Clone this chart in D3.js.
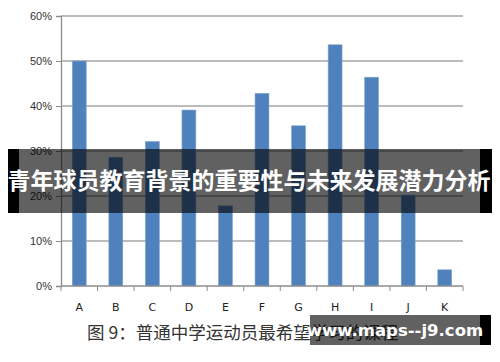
<!DOCTYPE html>
<html>
<head>
<meta charset="utf-8">
<script src="https://d3js.org/d3.v7.min.js"></script>
<style>
body { margin:0; background:#fff; }
svg { display:block; font-family:"DejaVu Sans", Verdana, sans-serif; }
</style>
</head>
<body>
<svg width="500" height="362"></svg>
<script>
var categories = ["A","B","C","D","E","F","G","H","I","J","K"];
var values = [50.0, 28.6, 32.1, 39.1, 17.8, 42.8, 35.6, 53.6, 46.4, 20.2, 3.6];
var yTicks = [0, 10, 20, 30, 40, 50, 60];
var title = "青年球员教育背景的重要性与未来发展潜力分析";
var caption = "图 9：普通中学运动员最希望学习的课程";
var watermark = "www.maps--j9.com";

var svg = d3.select("svg");
var x = d3.scaleBand().domain(categories).range([61, 463]).paddingInner(0.62).paddingOuter(0.31);
var y = d3.scaleLinear().domain([0, 60]).range([286, 16]);

// gridlines
svg.append("g").selectAll("line").data(yTicks.filter(function(d){ return d > 0; })).enter().append("line")
    .attr("x1", 61).attr("x2", 463)
    .attr("y1", function(d){ return y(d); }).attr("y2", function(d){ return y(d); })
    .attr("stroke", "#a6a6a6").attr("stroke-width", 1.3);

// y axis
var yaxis = d3.axisLeft(y).tickValues(yTicks).tickFormat(function(d){ return d + "%"; }).tickSize(5).tickPadding(4);
var gy = svg.append("g").attr("transform", "translate(61,0)").call(yaxis);
gy.select(".domain").attr("stroke", "#8c8c8c").attr("stroke-width", 1.3);
gy.selectAll(".tick line").attr("stroke", "#8c8c8c");
gy.selectAll("text").attr("fill", "#333").style("font-size", "11px");

// bars
svg.append("g").selectAll("rect").data(values).enter().append("rect")
    .attr("x", function(d, i){ return x(categories[i]); })
    .attr("width", x.bandwidth())
    .attr("y", function(d){ return y(d); })
    .attr("height", function(d){ return y(0) - y(d); })
    .attr("fill", "#4f81bd")
    .attr("stroke", "#7fa3d0").attr("stroke-width", 0.6);

// x axis
var xedge = d3.scaleLinear().domain([0, categories.length]).range([61, 463]);
svg.append("line").attr("x1", 61).attr("x2", 463).attr("y1", y(0)).attr("y2", y(0))
    .attr("stroke", "#8c8c8c").attr("stroke-width", 1.3);
svg.append("g").selectAll("line").data(d3.range(categories.length + 1)).enter().append("line")
    .attr("x1", function(d){ return xedge(d); }).attr("x2", function(d){ return xedge(d); })
    .attr("y1", y(0)).attr("y2", y(0) + 5)
    .attr("stroke", "#8c8c8c");
svg.append("g").selectAll("text").data(categories).enter().append("text")
    .attr("x", function(d){ return x(d) + x.bandwidth() / 2; })
    .attr("y", 311)
    .attr("text-anchor", "middle")
    .attr("fill", "#222")
    .style("font-size", "11px")
    .text(function(d){ return d; });

// caption
svg.append("text").attr("x", 87).attr("y", 339)
    .attr("fill", "#333")
    .style("font-family", "'Noto Sans CJK SC', sans-serif")
    .style("font-size", "17.5px")
    .text(caption);

// title banner
svg.append("rect").attr("x", 8).attr("y", 149).attr("width", 11).attr("height", 64).attr("fill", "#000");
svg.append("rect").attr("x", 480).attr("y", 149).attr("width", 12).attr("height", 64).attr("fill", "#000");
svg.append("rect").attr("x", 19).attr("y", 149).attr("width", 461).attr("height", 64).attr("fill", "rgba(0,0,0,0.62)");
svg.append("text").attr("x", 249).attr("y", 189)
    .attr("text-anchor", "middle")
    .attr("fill", "#fff")
    .style("font-family", "'Noto Sans CJK SC', sans-serif")
    .style("font-weight", "bold")
    .style("font-size", "23px")
    .text(title);

// watermark
svg.append("rect").attr("x", 310).attr("y", 315).attr("width", 170).attr("height", 30).attr("fill", "rgba(0,0,0,0.62)");
svg.append("rect").attr("x", 480).attr("y", 315).attr("width", 11).attr("height", 30).attr("fill", "#000");
svg.append("text").attr("x", 395).attr("y", 336)
    .attr("text-anchor", "middle")
    .attr("fill", "#fff")
    .style("font-family", "'DejaVu Sans', sans-serif")
    .style("font-weight", "bold")
    .style("font-size", "16.5px")
    .text(watermark);
</script>
</body>
</html>
